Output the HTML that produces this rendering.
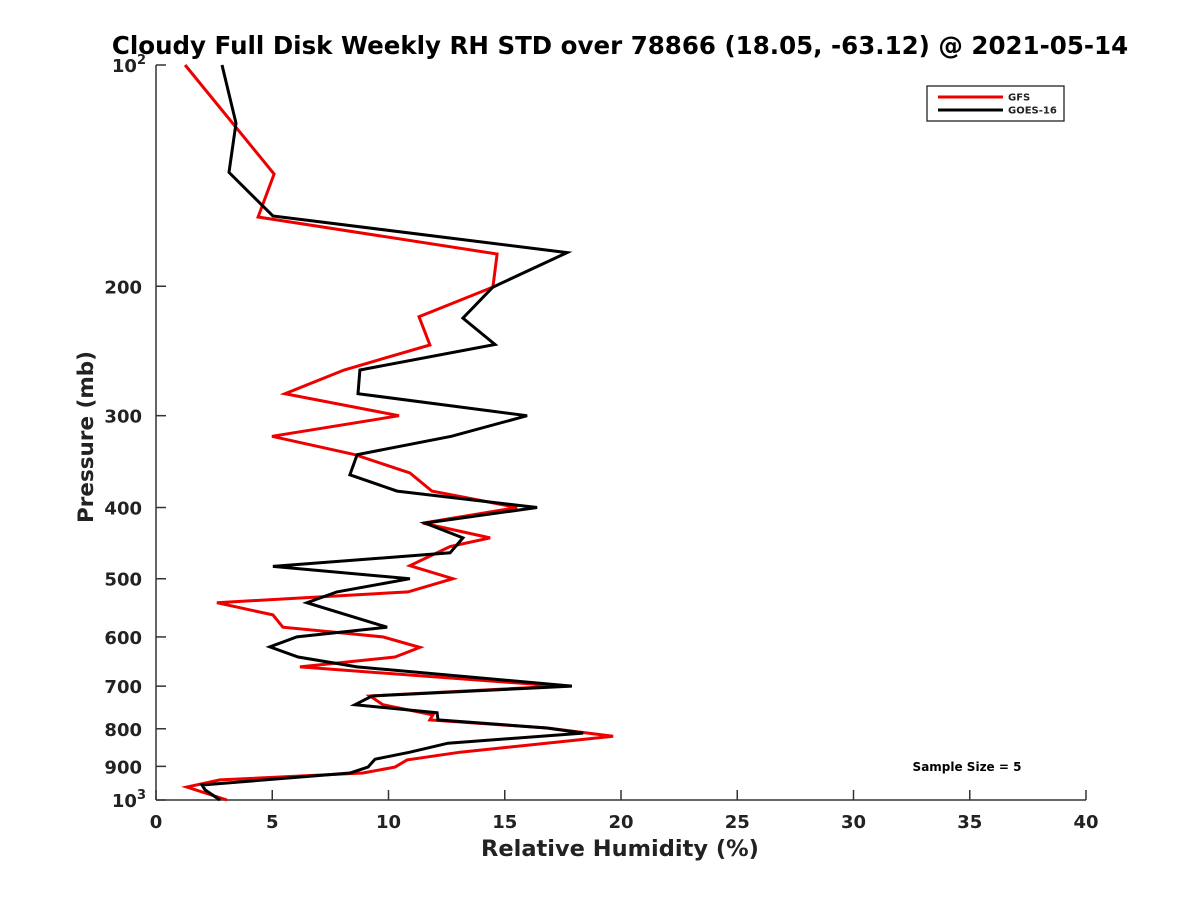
<!DOCTYPE html>
<html><head><meta charset="utf-8"><style>
body{margin:0;background:#fff;}
svg{display:block;font-family:"DejaVu Sans","Liberation Sans",sans-serif;font-weight:bold;}
</style></head><body>
<svg id="chart" width="1200" height="900">
<text x="620" y="54" font-size="24.5" text-anchor="middle" fill="#000">Cloudy Full Disk Weekly RH STD over 78866 (18.05, -63.12) @ 2021-05-14</text>
<g id="axes"></g>
<g id="series"></g>
<g>
<rect x="927" y="86" width="137" height="35" fill="#fff" stroke="#222" stroke-width="1.3"/>
<line x1="938" y1="97" x2="1003" y2="97" stroke="#e00" stroke-width="3"/>
<text x="1008" y="100.5" font-size="10" fill="#222">GFS</text>
<line x1="938" y1="110" x2="1003" y2="110" stroke="#000" stroke-width="3"/>
<text x="1008" y="113.5" font-size="10" fill="#222">GOES-16</text>
</g>
<text x="967" y="771" font-size="12" text-anchor="middle" fill="#000">Sample Size = 5</text>
<text x="620" y="856" font-size="22.5" text-anchor="middle" fill="#222">Relative Humidity (%)</text>
<text transform="translate(93,437) rotate(-90)" font-size="21.5" text-anchor="middle" fill="#222">Pressure (mb)</text>
</svg>
<script>
const xTicks=[0,5,10,15,20,25,30,35,40];
const yTicks=[100,200,300,400,500,600,700,800,900,1000];
const gfsP=[100,140.7,161,180.8,200.5,220,240.4,260,280,300,320,339,359,380,400,420,440,452,480,500,521,539,560,582,600,620,639,659,700,722,742,766,778,798,819,861,882,902,919,939,960,1000];
const gfsRH=[1.25,5.08,4.39,14.67,14.49,11.31,11.78,8.09,5.55,10.45,4.99,8.56,10.92,11.87,15.53,11.48,14.37,12.65,10.92,12.77,10.84,2.62,5.03,5.46,9.76,11.35,10.28,6.19,17.38,9.2,9.76,11.91,11.78,16.82,19.66,13.08,10.8,10.28,8.9,2.75,1.33,3.05];
const goesP=[100,120,140,160.5,180,200.5,221,240,260,280,300,320,339,361,380,400,420,440,461,481,500,521,539,582,600,619,639,659,700,722,742,761,778,798,811,837,861,880,902,919,954,969,1000];
const goesRH=[2.84,3.44,3.14,5.03,17.68,14.49,13.2,14.58,8.77,8.69,15.96,12.7,8.65,8.34,10.37,16.39,11.57,13.2,12.65,5.03,10.92,7.78,6.49,9.94,6.06,4.9,6.11,8.65,17.89,9.29,8.56,12.09,12.13,16.82,18.37,12.56,10.92,9.42,9.12,8.34,1.98,2.11,2.75];
const X0=156,X1=1086,Y0=65,Y1=800;
const xs=v=>X0+(v-0)/40*(X1-X0);
const ys=p=>Y0+Math.log10(p/100)*(Y1-Y0);
const NS="http://www.w3.org/2000/svg";
function mk(t,a,parent){const e=document.createElementNS(NS,t);for(const k in a)e.setAttribute(k,a[k]);parent.appendChild(e);return e;}
const ax=document.getElementById('axes');
const la=mk('line',{x1:X0,y1:Y0,x2:X0,y2:Y1,stroke:'#333','stroke-width':1.5},ax);


const lb=mk('line',{x1:X0,y1:Y1,x2:X1,y2:Y1,stroke:'#333','stroke-width':1.5},ax);


xTicks.forEach(v=>{
 const x=xs(v);
 mk('line',{x1:x,y1:Y1,x2:x,y2:Y1-10,stroke:'#333','stroke-width':1.5},ax);
 const t=mk('text',{x:x,y:Y1+28,'font-size':18,'text-anchor':'middle',fill:'#222'},ax);
 t.textContent=v;
 
 
});
yTicks.forEach(p=>{
 const y=ys(p);
 mk('line',{x1:X0,y1:y,x2:X0+10,y2:y,stroke:'#333','stroke-width':1.5},ax);
 const t=mk('text',{x:X0-14,y:y+7,'font-size':18,'text-anchor':'end',fill:'#222'},ax);
 if(p===100||p===1000){
  t.textContent='10';
  const s=mk('tspan',{dy:-8,'font-size':13},t);
  s.textContent=p===100?'2':'3';
  t.setAttribute('x',X0-10);
 } else t.textContent=p;
 
 
});
const sg=document.getElementById('series');
function line(P,R,color,name){
 const pts=P.map((p,i)=>xs(R[i]).toFixed(1)+','+ys(p).toFixed(1)).join(' ');
 const pl=mk('polyline',{points:pts,fill:'none',stroke:color,'stroke-width':3,'stroke-linejoin':'miter'},sg);
 
 
}
line(gfsP,gfsRH,'#e00','gfs-line');
line(goesP,goesRH,'#000','goes16-line');
</script>
</body></html>
